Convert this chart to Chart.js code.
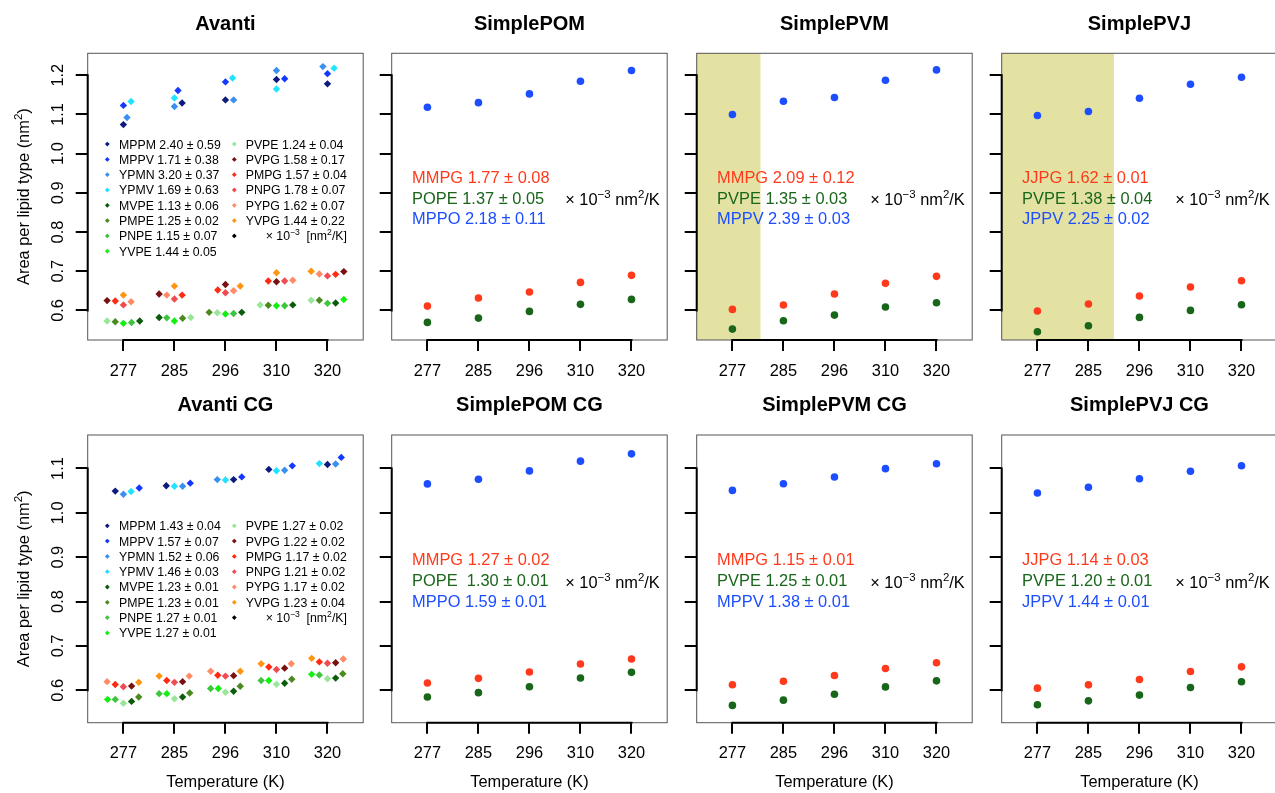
<!DOCTYPE html>
<html>
<head>
<meta charset="utf-8">
<title>Area per lipid vs temperature</title>
<script src="https://cdn.jsdelivr.net/npm/chart.js@4.4.1/dist/chart.umd.min.js"></script>
<style>
  html, body { margin: 0; padding: 0; background: #fff; width: 1275px; height: 793px; overflow: hidden; position: relative; }
  canvas { position: absolute; left: 0; top: 0; }
</style>
</head>
<body>
<script>
// ---------- data ----------
const temps = ['277', '285', '296', '310', '320'];
const tempIndex = [1, 2, 3, 4, 5];

// Avanti lipid mixture (legend order)
const avantiLipids = ['MPPM', 'MPPV', 'YPMN', 'YPMV', 'MVPE', 'PMPE', 'PNPE', 'YVPE',
                      'PVPE', 'PVPG', 'PMPG', 'PNPG', 'PYPG', 'YVPG'];

// expansion coefficients (x 10^-3 nm^2/K), atomistic
const avantiRate = [2.40, 1.71, 3.20, 1.69, 1.13, 1.25, 1.15, 1.44, 1.24, 1.58, 1.57, 1.78, 1.62, 1.44];
const avantiErr  = [0.59, 0.38, 0.37, 0.63, 0.06, 0.02, 0.07, 0.05, 0.04, 0.17, 0.04, 0.07, 0.07, 0.22];
// area per lipid (nm^2) at each temperature, atomistic
const avantiArea = [
  [1.074, 1.129, 1.137, 1.189, 1.178],
  [1.123, 1.161, 1.183, 1.191, 1.204],
  [1.092, 1.120, 1.137, 1.212, 1.222],
  [1.133, 1.142, 1.193, 1.165, 1.218],
  [0.573, 0.582, 0.595, 0.614, 0.619],
  [0.571, 0.580, 0.595, 0.613, 0.626],
  [0.569, 0.581, 0.592, 0.612, 0.618],
  [0.567, 0.573, 0.591, 0.612, 0.628],
  [0.573, 0.582, 0.594, 0.614, 0.626],
  [0.625, 0.642, 0.666, 0.673, 0.699],
  [0.624, 0.639, 0.652, 0.675, 0.692],
  [0.614, 0.629, 0.645, 0.675, 0.688],
  [0.622, 0.639, 0.650, 0.677, 0.693],
  [0.639, 0.662, 0.662, 0.696, 0.700]
];
// sideways shift of each marker from its temperature slot, atomistic
const avantiShift = [
  [0.00, 0.15, 0.00, 0.00, 0.00],
  [0.00, 0.07, 0.00, 0.16, 0.00],
  [0.07, 0.00, 0.16, 0.00, -0.09],
  [0.15, 0.00, 0.14, 0.00, 0.13],
  [0.32, -0.30, 0.32, 0.32, 0.16],
  [-0.16, 0.16, -0.32, -0.16, -0.16],
  [0.16, -0.15, 0.16, 0.16, 0.00],
  [0.00, 0.00, 0.00, 0.00, 0.32],
  [-0.32, 0.32, -0.16, -0.32, -0.32],
  [-0.32, -0.30, 0.00, 0.00, 0.32],
  [-0.16, 0.15, -0.15, -0.16, 0.16],
  [0.00, 0.00, 0.00, 0.16, 0.00],
  [0.15, -0.15, 0.16, 0.32, -0.16],
  [0.00, 0.00, 0.29, 0.00, -0.32]
];

// coarse-grained Avanti mixture
const avantiCgRate = [1.43, 1.57, 1.52, 1.46, 1.23, 1.23, 1.27, 1.27, 1.27, 1.22, 1.17, 1.21, 1.17, 1.23];
const avantiCgErr  = [0.04, 0.07, 0.06, 0.03, 0.01, 0.01, 0.01, 0.01, 0.02, 0.02, 0.02, 0.02, 0.02, 0.04];
const avantiCgArea = [
  [1.049, 1.061, 1.075, 1.098, 1.109],
  [1.056, 1.067, 1.081, 1.106, 1.125],
  [1.042, 1.060, 1.075, 1.096, 1.110],
  [1.048, 1.060, 1.074, 1.095, 1.111],
  [0.575, 0.585, 0.598, 0.616, 0.6275],
  [0.585, 0.594, 0.609, 0.625, 0.6375],
  [0.5795, 0.5925, 0.604, 0.622, 0.6345],
  [0.5795, 0.5925, 0.604, 0.622, 0.636],
  [0.571, 0.581, 0.5955, 0.6135, 0.626],
  [0.6095, 0.6195, 0.633, 0.650, 0.662],
  [0.613, 0.622, 0.634, 0.6525, 0.664],
  [0.608, 0.618, 0.632, 0.647, 0.661],
  [0.6195, 0.632, 0.643, 0.660, 0.6705],
  [0.618, 0.632, 0.643, 0.660, 0.672]
];
const avantiCgShift = [
  [-0.16, -0.16, 0.16, -0.15, 0.00],
  [0.31, 0.31, 0.32, 0.31, 0.27],
  [0.00, 0.16, -0.16, 0.16, 0.16],
  [0.15, 0.00, 0.00, 0.00, -0.16],
  [0.16, 0.16, 0.16, 0.16, 0.16],
  [0.30, 0.30, 0.29, 0.30, 0.30],
  [-0.16, -0.30, -0.29, -0.30, -0.16],
  [-0.31, -0.15, -0.14, -0.15, -0.31],
  [0.00, 0.00, 0.00, 0.00, 0.00],
  [0.16, 0.16, 0.16, 0.16, 0.16],
  [-0.16, -0.15, -0.15, -0.15, -0.16],
  [0.00, 0.00, 0.00, 0.00, 0.00],
  [-0.32, 0.29, -0.29, 0.29, 0.31],
  [0.30, -0.30, 0.29, -0.30, -0.31]
];

// simple three-lipid models: rows are [PG, PE, third lipid]
const pomLipids = ['MMPG', 'POPE', 'MPPO'];
const pomRate = [1.77, 1.37, 2.18];
const pomErr  = [0.08, 0.05, 0.11];
const pomArea = [
  [0.611, 0.6315, 0.6468, 0.6715, 0.6894],
  [0.5694, 0.5804, 0.5975, 0.6154, 0.6281],
  [1.1183, 1.130, 1.1523, 1.1847, 1.212]
];

const pvmLipids = ['MMPG', 'PVPE', 'MPPV'];
const pvmRate = [2.09, 1.35, 2.39];
const pvmErr  = [0.12, 0.03, 0.03];
const pvmArea = [
  [0.6026, 0.6136, 0.6417, 0.669, 0.6869],
  [0.5523, 0.5737, 0.588, 0.6085, 0.6197],
  [1.0997, 1.1336, 1.143, 1.1872, 1.2136]
];
const pvmShadeTo = 1.55;

const pvjLipids = ['JJPG', 'PVPE', 'JPPV'];
const pvjRate = [1.62, 1.38, 2.25];
const pvjErr  = [0.01, 0.04, 0.02];
const pvjArea = [
  [0.5983, 0.6162, 0.6366, 0.6596, 0.6758],
  [0.5457, 0.561, 0.5822, 0.6, 0.6146],
  [1.0971, 1.1073, 1.1413, 1.177, 1.1949]
];
const pvjShadeTo = 2.5;

const pomCgLipids = ['MMPG', 'POPE ', 'MPPO'];
const pomCgRate = [1.27, 1.30, 1.59];
const pomCgErr  = [0.02, 0.01, 0.01];
const pomCgArea = [
  [0.6164, 0.627, 0.6412, 0.6592, 0.6705],
  [0.5848, 0.5947, 0.6082, 0.6276, 0.6405],
  [1.0653, 1.0759, 1.0946, 1.1165, 1.133]
];

const pvmCgLipids = ['MMPG', 'PVPE', 'MPPV'];
const pvmCgRate = [1.15, 1.25, 1.38];
const pvmCgErr  = [0.01, 0.01, 0.01];
const pvmCgArea = [
  [0.6124, 0.6206, 0.6334, 0.6492, 0.662],
  [0.566, 0.5778, 0.5912, 0.6077, 0.6213],
  [1.0506, 1.0657, 1.0808, 1.0996, 1.1108]
];

const pvjCgLipids = ['JJPG', 'PVPE', 'JPPV'];
const pvjCgRate = [1.14, 1.20, 1.44];
const pvjCgErr  = [0.03, 0.01, 0.01];
const pvjCgArea = [
  [0.6049, 0.6123, 0.6245, 0.6425, 0.6529],
  [0.5673, 0.5763, 0.5892, 0.6065, 0.6192],
  [1.0447, 1.0576, 1.077, 1.0937, 1.1063]
];

const topTicks = [0.6, 0.7, 0.8, 0.9, 1.0, 1.1, 1.2];
const bottomTicks = [0.6, 0.7, 0.8, 0.9, 1.0, 1.1];

// ---------- styling ----------
const FONT = "'Liberation Sans', Arial, Helvetica, sans-serif";
const lipidColors = ['#0d1b7e', '#1438ff', '#3a90ee', '#20e4ff',
                     '#0b5c0b', '#4b8a1f', '#3ec43e', '#12f012', '#99e699',
                     '#7a1010', '#ff2a12', '#f24a52', '#ff8c66', '#ff9410'];
const simpleColors = ['#ff3a1c', '#18661a', '#1c4dff'];
const SHADE = '#e4e2a3';
const CW = 1290, CH = 793;
const Y_W = 12, X_H = 45;
const TICK_SIZE = 16.4;

function fmt(name, rate, err) {
  return name + ' ' + rate.toFixed(2) + ' \u00b1 ' + err.toFixed(2);
}

function drawRich(ctx, x, y, parts, size, align) {
  let total = 0;
  for (const [t, sup] of parts) {
    ctx.font = (sup ? size * 0.7 : size) + 'px ' + FONT;
    total += ctx.measureText(t).width;
  }
  let cx = align === 'center' ? x - total / 2 : x;
  ctx.textAlign = 'left';
  ctx.textBaseline = 'alphabetic';
  for (const [t, sup] of parts) {
    const s = sup ? size * 0.7 : size;
    ctx.font = s + 'px ' + FONT;
    ctx.fillText(t, cx, sup ? y - size * 0.42 : y);
    cx += ctx.measureText(t).width;
  }
}

function diamond(ctx, x, y, r, color) {
  ctx.beginPath();
  ctx.moveTo(x - r, y); ctx.lineTo(x, y - r); ctx.lineTo(x + r, y); ctx.lineTo(x, y + r);
  ctx.closePath();
  ctx.fillStyle = color;
  ctx.fill();
}

function panelPlugin(cfg) {
  return {
    id: 'panelDecor',
    beforeDatasetsDraw(chart) {
      if (cfg.shadeTo == null) return;
      const { ctx, chartArea: a, scales: { x } } = chart;
      ctx.save();
      ctx.fillStyle = SHADE;
      ctx.fillRect(a.left, a.top, x.getPixelForValue(cfg.shadeTo) - a.left, a.bottom - a.top);
      ctx.restore();
    },
    afterDatasetsDraw(chart) {
      const { ctx, chartArea: a, scales: { x, y } } = chart;
      ctx.save();
      // plot frame
      ctx.strokeStyle = '#555';
      ctx.lineWidth = 1;
      ctx.strokeRect(a.left, a.top, a.right - a.left, a.bottom - a.top);
      // axis lines spanning first to last tick
      ctx.strokeStyle = '#000';
      ctx.lineWidth = 2;
      ctx.beginPath();
      ctx.moveTo(x.getPixelForValue(x.ticks[0].value) - 1, a.bottom);
      ctx.lineTo(x.getPixelForValue(x.ticks[x.ticks.length - 1].value) + 1, a.bottom);
      ctx.moveTo(a.left, y.getPixelForValue(y.ticks[0].value) + 1);
      ctx.lineTo(a.left, y.getPixelForValue(y.ticks[y.ticks.length - 1].value) - 1);
      ctx.stroke();

      ctx.fillStyle = '#000';
      // title
      ctx.font = 'bold 20px ' + FONT;
      ctx.textAlign = 'center';
      ctx.textBaseline = 'alphabetic';
      ctx.fillText(cfg.title, (a.left + a.right) / 2, a.top - 23.8);

      if (cfg.xTitle) {
        ctx.font = TICK_SIZE + 'px ' + FONT;
        ctx.fillText('Temperature (K)', (a.left + a.right) / 2, a.bottom + 64.3);
      }

      if (cfg.yLabels) {
        // rotated tick labels and axis title
        for (const t of y.ticks) {
          ctx.save();
          ctx.translate(63.3, y.getPixelForValue(t.value));
          ctx.rotate(-Math.PI / 2);
          ctx.font = TICK_SIZE + 'px ' + FONT;
          ctx.textAlign = 'center';
          ctx.fillText(t.value.toFixed(1), 0, 0);
          ctx.restore();
        }
        ctx.save();
        ctx.translate(29.3, (a.top + a.bottom) / 2);
        ctx.rotate(-Math.PI / 2);
        ctx.fillStyle = '#000';
        drawRich(ctx, 0, 0, [['Area per lipid type (nm', 0], ['2', 1], [')', 0]], TICK_SIZE, 'center');
        ctx.restore();
      }

      if (cfg.legend) {
        const L = cfg.legend;
        const fs = 12.3;
        const row0 = a.top + 90.8, step = 15.3;
        const cols = [[19.6, 31.3], [146.6, 158]];
        avantiLipids.forEach((name, k) => {
          const c = k < 8 ? 0 : 1;
          const r = k < 8 ? k : k - 8;
          const cy = row0 + r * step;
          diamond(ctx, a.left + cols[c][0], cy, 2.4, lipidColors[k]);
          ctx.fillStyle = '#000';
          ctx.font = fs + 'px ' + FONT;
          ctx.textAlign = 'left';
          ctx.fillText(fmt(name, L.rate[k], L.err[k]), a.left + cols[c][1], cy + 0.358 * fs);
        });
        const cy = row0 + 6 * step;
        diamond(ctx, a.left + cols[1][0], cy, 2.4, '#000');
        ctx.fillStyle = '#000';
        drawRich(ctx, a.left + cols[1][1] + 20, cy + 0.358 * fs,
          [['\u00d7 10', 0], ['\u22123', 1], ['  [nm', 0], ['2', 1], ['/K]', 0]], fs);
      }

      if (cfg.notes) {
        const N = cfg.notes;
        const fs = TICK_SIZE;
        const x0 = x.getPixelForValue(0.7);
        const y0 = y.getPixelForValue(N.firstY);
        N.names.forEach((name, k) => {
          ctx.fillStyle = simpleColors[k];
          ctx.font = fs + 'px ' + FONT;
          ctx.textAlign = 'left';
          ctx.textBaseline = 'alphabetic';
          ctx.fillText(fmt(name, N.rate[k], N.err[k]), x0, y0 + k * N.step + 0.358 * fs);
        });
        ctx.fillStyle = '#000';
        drawRich(ctx, x.getPixelForValue(3.7), y.getPixelForValue(N.unitY) + 0.358 * fs,
          [['\u00d7 10', 0], ['\u22123', 1], [' nm', 0], ['2', 1], ['/K', 0]], fs);
      }
      ctx.restore();
    }
  };
}

function avantiDatasets(area, shift) {
  return avantiLipids.map((name, k) => ({
    label: name,
    data: tempIndex.map((t, i) => ({ x: t + shift[k][i], y: area[k][i] })),
    showLine: false,
    pointStyle: 'rectRot',
    pointRadius: 3.7,
    pointBackgroundColor: lipidColors[k],
    pointBorderWidth: 0,
    backgroundColor: lipidColors[k]
  }));
}

function simpleDatasets(names, area) {
  return names.map((name, k) => ({
    label: name.trim(),
    data: tempIndex.map((t, i) => ({ x: t, y: area[k][i] })),
    showLine: false,
    pointStyle: 'circle',
    pointRadius: 3.8,
    pointBackgroundColor: simpleColors[k],
    pointBorderWidth: 0,
    backgroundColor: simpleColors[k]
  }));
}

function buildPanel(cfg) {
  const cv = document.createElement('canvas');
  cv.width = CW; cv.height = CH;
  cv.style.width = CW + 'px'; cv.style.height = CH + 'px';
  document.body.appendChild(cv);
  const [l, t, r, b] = cfg.box;
  const gridOpts = {
    drawOnChartArea: false, drawTicks: true, tickLength: cfg.tickLen,
    lineWidth: 2, tickWidth: 2, color: '#000', tickColor: '#000'
  };
  new Chart(cv, {
    type: 'scatter',
    data: { datasets: cfg.datasets },
    options: {
      responsive: false,
      animation: false,
      events: [],
      devicePixelRatio: 1,
      layout: { padding: { left: l - Y_W, top: t, right: CW - r, bottom: CH - b - X_H } },
      plugins: { legend: { display: false }, tooltip: { enabled: false } },
      scales: {
        x: {
          type: 'linear', position: 'bottom', min: 0.3, max: 5.7,
          afterBuildTicks: s => { s.ticks = tempIndex.map(v => ({ value: v })); },
          afterFit: s => { s.height = X_H; },
          ticks: {
            callback: v => temps[v - 1],
            font: { family: FONT, size: TICK_SIZE },
            color: '#000', padding: cfg.xPad, maxRotation: 0, minRotation: 0, autoSkip: false
          },
          grid: gridOpts,
          border: { display: false }
        },
        y: {
          type: 'linear', position: 'left', min: cfg.yMin, max: cfg.yMax,
          afterBuildTicks: s => { s.ticks = cfg.yTicks.map(v => ({ value: v })); },
          afterFit: s => { s.width = Y_W; },
          ticks: { display: false },
          grid: Object.assign({}, gridOpts, { tickLength: 12 }),
          border: { display: false }
        }
      }
    },
    plugins: [panelPlugin(cfg)]
  });
}

// ---------- layout ----------
const colLeft = [87.7, 391.7, 696.7, 1001.7];
const PW = 275.5;
const topRow = { t: 53.3, b: 340, yMin: 0.5245, yMax: 1.2559, yTicks: topTicks, xPad: 10.8 };
const botRow = { t: 435, b: 722.7, yMin: 0.527, yMax: 1.1755, yTicks: bottomTicks, xPad: 10.3 };

function rowCfg(row, col) {
  return {
    box: [colLeft[col], row.t, colLeft[col] + PW, row.b],
    yMin: row.yMin, yMax: row.yMax, yTicks: row.yTicks, xPad: row.xPad, tickLen: 11
  };
}

buildPanel(Object.assign(rowCfg(topRow, 0), {
  title: 'Avanti', yLabels: true,
  datasets: avantiDatasets(avantiArea, avantiShift),
  legend: { rate: avantiRate, err: avantiErr }
}));
buildPanel(Object.assign(rowCfg(topRow, 1), {
  title: 'SimplePOM', datasets: simpleDatasets(pomLipids, pomArea),
  notes: { names: pomLipids, rate: pomRate, err: pomErr, firstY: 0.94, step: 20.5, unitY: 0.885 }
}));
buildPanel(Object.assign(rowCfg(topRow, 2), {
  title: 'SimplePVM', shadeTo: pvmShadeTo, datasets: simpleDatasets(pvmLipids, pvmArea),
  notes: { names: pvmLipids, rate: pvmRate, err: pvmErr, firstY: 0.94, step: 20.5, unitY: 0.885 }
}));
buildPanel(Object.assign(rowCfg(topRow, 3), {
  title: 'SimplePVJ', shadeTo: pvjShadeTo, datasets: simpleDatasets(pvjLipids, pvjArea),
  notes: { names: pvjLipids, rate: pvjRate, err: pvjErr, firstY: 0.94, step: 20.5, unitY: 0.885 }
}));

buildPanel(Object.assign(rowCfg(botRow, 0), {
  title: 'Avanti CG', yLabels: true, xTitle: true,
  datasets: avantiDatasets(avantiCgArea, avantiCgShift),
  legend: { rate: avantiCgRate, err: avantiCgErr }
}));
buildPanel(Object.assign(rowCfg(botRow, 1), {
  title: 'SimplePOM CG', xTitle: true, datasets: simpleDatasets(pomCgLipids, pomCgArea),
  notes: { names: pomCgLipids, rate: pomCgRate, err: pomCgErr, firstY: 0.895, step: 21, unitY: 0.8435 }
}));
buildPanel(Object.assign(rowCfg(botRow, 2), {
  title: 'SimplePVM CG', xTitle: true, datasets: simpleDatasets(pvmCgLipids, pvmCgArea),
  notes: { names: pvmCgLipids, rate: pvmCgRate, err: pvmCgErr, firstY: 0.895, step: 21, unitY: 0.8435 }
}));
buildPanel(Object.assign(rowCfg(botRow, 3), {
  title: 'SimplePVJ CG', xTitle: true, datasets: simpleDatasets(pvjCgLipids, pvjCgArea),
  notes: { names: pvjCgLipids, rate: pvjCgRate, err: pvjCgErr, firstY: 0.895, step: 21, unitY: 0.8435 }
}));
</script>
</body>
</html>
